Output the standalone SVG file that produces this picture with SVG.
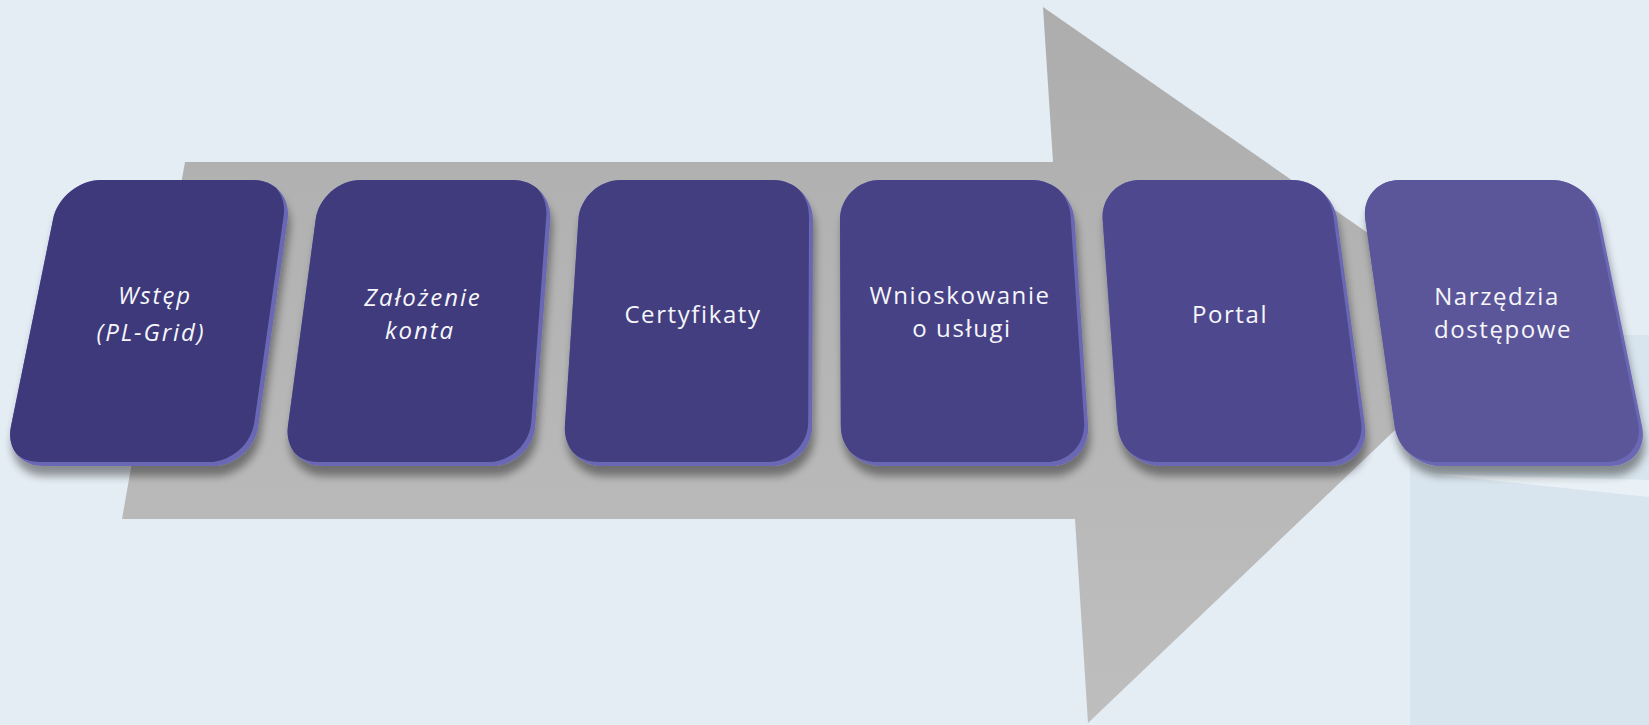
<svg xmlns="http://www.w3.org/2000/svg" xmlns:xlink="http://www.w3.org/1999/xlink" width="1649" height="725" viewBox="0 0 1649 725">
  <style>
    .lbl { fill: #f6f6fa; font-family: "Open Sans", "Noto Sans", "DejaVu Sans", sans-serif; font-size: 24px; letter-spacing: 1.6px; text-anchor: middle; }
    .it { font-style: italic; letter-spacing: 1.9px; }
    .rim { fill: #6b67b4; }
  </style>
  <defs>
    <linearGradient id="arrowGrad" x1="0" y1="0" x2="0" y2="1">
      <stop offset="0" stop-color="#adadad"/>
      <stop offset="1" stop-color="#bebebe"/>
    </linearGradient>
    <filter id="sh" x="-10%" y="-10%" width="125%" height="130%">
      <feGaussianBlur in="SourceAlpha" stdDeviation="4"/>
      <feOffset dx="2" dy="10" result="o"/>
      <feComponentTransfer in="o" result="s"><feFuncA type="linear" slope="0.4"/></feComponentTransfer>
      <feMerge><feMergeNode in="s"/><feMergeNode in="SourceGraphic"/></feMerge>
    </filter>
    <path id="p1" d="M101.1,180 L253.3,180 C275.4,180 290.8,197.7 287.7,219.6 L258.3,426.4 C255.2,448.3 234.8,466 212.7,466 L42.9,466 C20.8,466 6.5,448.4 10.9,426.8 L53.1,219.2 C57.5,197.6 79,180 101.1,180 Z"/>
    <path id="p2" d="M361,180 L513.2,180 C535.3,180 551.9,197.9 550.3,219.9 L535.3,426.1 C533.7,448.1 514.5,466 492.4,466 L322.6,466 C300.5,466 285,448.2 287.9,426.4 L315.7,219.6 C318.6,197.8 338.9,180 361,180 Z"/>
    <path id="p3" d="M621,180 L773.1,180 C795.2,180 813,197.9 813,220 L812.2,426 C812.2,448.1 794.2,466 772.1,466 L602.3,466 C580.2,466 563.5,448.1 564.9,426.1 L578.4,219.9 C579.8,197.9 598.9,180 621,180 Z"/>
    <path id="p4" d="M1032,180 L879.9,180 C857.8,180 840,197.9 840,220 L840.8,426 C840.8,448.1 858.8,466 880.9,466 L1050.7,466 C1072.8,466 1089.5,448.1 1088.1,426.1 L1074.6,219.9 C1073.2,197.9 1054.1,180 1032,180 Z"/>
    <path id="p5" d="M1292,180 L1139.8,180 C1117.7,180 1101.1,197.9 1102.7,219.9 L1117.7,426.1 C1119.3,448.1 1138.5,466 1160.6,466 L1330.4,466 C1352.5,466 1368,448.2 1365.1,426.4 L1337.3,219.6 C1334.4,197.8 1314.1,180 1292,180 Z"/>
    <path id="p6" d="M1551.9,180 L1399.7,180 C1377.6,180 1362.2,197.7 1365.3,219.6 L1394.7,426.4 C1397.8,448.3 1418.2,466 1440.3,466 L1610.1,466 C1632.2,466 1646.5,448.4 1642.1,426.8 L1599.9,219.2 C1595.5,197.6 1574,180 1551.9,180 Z"/>
    <clipPath id="c1"><use xlink:href="#p1"/></clipPath>
    <clipPath id="c2"><use xlink:href="#p2"/></clipPath>
    <clipPath id="c3"><use xlink:href="#p3"/></clipPath>
    <clipPath id="c4"><use xlink:href="#p4"/></clipPath>
    <clipPath id="c5"><use xlink:href="#p5"/></clipPath>
    <clipPath id="c6"><use xlink:href="#p6"/></clipPath>
  </defs>

  <rect x="0" y="0" width="1649" height="725" fill="#e4ecf4"/>
  <rect x="1410" y="335" width="239" height="390" fill="#d9e5ee"/>
  <polygon points="1430,474 1649,480 1649,497" fill="#ffffff" opacity="0.45"/>

  <g id="connectors">
    <polygon id="arrow" points="185,162 1053,162 1043,7 1503,327 1088,723 1075,519 122,519" fill="url(#arrowGrad)"/>
  </g>

  <g id="node1">
    <use xlink:href="#p1" class="rim" filter="url(#sh)"/>
    <g clip-path="url(#c1)"><use xlink:href="#p1" transform="translate(-4,-4)" fill="#3d397a"/></g>
    <text class="lbl it" x="155" y="304">Wstęp</text>
    <text class="lbl it" x="151" y="341">(PL-Grid)</text>
  </g>
  <g id="node2">
    <use xlink:href="#p2" class="rim" filter="url(#sh)"/>
    <g clip-path="url(#c2)"><use xlink:href="#p2" transform="translate(-4,-4)" fill="#3f3b7c"/></g>
    <text class="lbl it" x="423" y="306">Założenie</text>
    <text class="lbl it" x="420" y="339">konta</text>
  </g>
  <g id="node3">
    <use xlink:href="#p3" class="rim" filter="url(#sh)"/>
    <g clip-path="url(#c3)"><use xlink:href="#p3" transform="translate(-4,-4)" fill="#423e80"/></g>
    <text class="lbl" x="693" y="323">Certyfikaty</text>
  </g>
  <g id="node4">
    <use xlink:href="#p4" class="rim" filter="url(#sh)"/>
    <g clip-path="url(#c4)"><use xlink:href="#p4" transform="translate(-4,-4)" fill="#474286"/></g>
    <text class="lbl" x="960" y="304">Wnioskowanie</text>
    <text class="lbl" x="962" y="337">o usługi</text>
  </g>
  <g id="node5">
    <use xlink:href="#p5" class="rim" filter="url(#sh)"/>
    <g clip-path="url(#c5)"><use xlink:href="#p5" transform="translate(-4,-4)" fill="#4e498e"/></g>
    <text class="lbl" x="1230" y="323">Portal</text>
  </g>
  <g id="node6">
    <use xlink:href="#p6" class="rim" filter="url(#sh)"/>
    <g clip-path="url(#c6)"><use xlink:href="#p6" transform="translate(-4,-4)" fill="#5b5699"/></g>
    <text class="lbl" x="1497" y="305">Narzędzia</text>
    <text class="lbl" x="1503" y="338">dostępowe</text>
  </g>
</svg>
